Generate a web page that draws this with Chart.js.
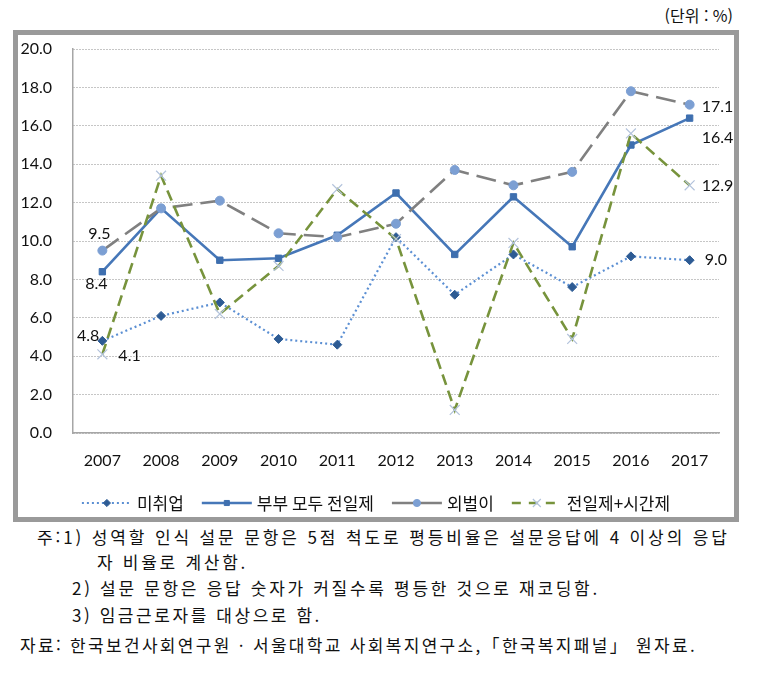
<!DOCTYPE html>
<html lang="ko">
<head>
<meta charset="utf-8">
<script src="https://cdn.jsdelivr.net/npm/chart.js@4.4.1/dist/chart.umd.min.js"></script>
<style>
  html, body { margin: 0; padding: 0; background: #fff; }
  body { width: 758px; height: 676px; position: relative; overflow: hidden; font-family: "Noto Sans CJK KR", sans-serif; color: #111; }
  #unit { position: absolute; right: 25px; top: 4px; font-size: 16px; line-height: 22px; }
  #frame { position: absolute; left: 13px; top: 30px; width: 716px; height: 482px; border: 5px solid #9a9a9a; }
  .note { position: absolute; font-size: 17px; line-height: 22px; white-space: nowrap; }
</style>
</head>
<body>
<div id="unit">(단위 : %)</div>
<div id="frame"><canvas id="chart"></canvas></div>

<div class="note" data-w="693" style="left:37px; top:526px;">주:1) 성역할 인식 설문 문항은 5점 척도로 평등비율은 설문응답에 4 이상의 응답</div>
<div class="note" data-w="151" style="left:97px; top:551px;">자 비율로 계산함.</div>
<div class="note" data-w="528" style="left:72px; top:577px;">2) 설문 문항은 응답 숫자가 커질수록 평등한 것으로 재코딩함.</div>
<div class="note" data-w="250" style="left:72px; top:604px;">3) 임금근로자를 대상으로 함.</div>
<div class="note" data-w="677" style="left:20px; top:634px;">자료: 한국보건사회연구원 · 서울대학교 사회복지연구소,「한국복지패널」 원자료.</div>

<script>
// data
const years = ['2007', '2008', '2009', '2010', '2011', '2012', '2013', '2014', '2015', '2016', '2017'];
const unemployed   = [4.8, 6.1, 6.8, 4.9, 4.6, 10.2, 7.2, 9.3, 7.6, 9.2, 9.0];     // 미취업
const dualFullTime = [8.4, 11.7, 9.0, 9.1, 10.3, 12.5, 9.3, 12.3, 9.7, 15.0, 16.4]; // 부부 모두 전일제
const singleEarner = [9.5, 11.7, 12.1, 10.4, 10.2, 10.9, 13.7, 12.9, 13.6, 17.8, 17.1]; // 외벌이
const fullPartTime = [4.1, 13.4, 6.2, 8.7, 12.7, 10.1, 1.2, 9.9, 4.9, 15.6, 12.9]; // 전일제+시간제
const seriesNames = ['미취업', '부부 모두 전일제', '외벌이', '전일제+시간제'];

const tickFont = { family: 'Lato, "Open Sans", sans-serif', size: 16 };

// where the end-value labels sit relative to their point
const endLabels = [
  { first: { dx: -3, dy: -5, align: 'right' },  last: { dx: 15, dy: 0, align: 'left' } },
  { first: { dx: -6, dy: 12, align: 'center' }, last: { dx: 12, dy: 20, align: 'left' } },
  { first: { dx: -3, dy: -17, align: 'center' }, last: { dx: 12, dy: 2, align: 'left' } },
  { first: { dx: 16, dy: 2, align: 'left' },     last: { dx: 12, dy: 1, align: 'left' } }
];

const endLabelPlugin = {
  id: 'endLabels',
  afterDatasetsDraw(chart) {
    const ctx = chart.ctx;
    ctx.save();
    ctx.font = '16px Lato, "Open Sans", sans-serif';
    ctx.fillStyle = '#111';
    ctx.textBaseline = 'middle';
    chart.data.datasets.forEach((ds, i) => {
      const pts = chart.getDatasetMeta(i).data;
      const cfg = endLabels[i];
      [[0, cfg.first], [pts.length - 1, cfg.last]].forEach(([idx, c]) => {
        const p = pts[idx];
        ctx.textAlign = c.align;
        ctx.fillText(ds.data[idx].toFixed(1), p.x + c.dx, p.y + c.dy);
      });
    });
    ctx.restore();
  }
};

// Excel-like legend: line sample with marker in the middle
const lineLegendPlugin = {
  id: 'lineLegend',
  afterDraw(chart) {
    const ctx = chart.ctx;
    const sample = 50, gap = 5, itemGap = 18;
    const y = chart.height - 14;
    ctx.save();
    ctx.font = '17px "Noto Sans CJK KR", sans-serif';
    const items = chart.data.datasets.map(ds => ({ ds, w: ctx.measureText(ds.label).width }));
    const total = items.reduce((s, it) => s + sample + gap + it.w, 0) + itemGap * (items.length - 1);
    let x = (chart.width - total) / 2;
    items.forEach(({ ds, w }) => {
      ctx.strokeStyle = ds.borderColor;
      ctx.lineWidth = ds.borderWidth;
      ctx.setLineDash(ds.legendDash || []);
      ctx.beginPath();
      ctx.moveTo(x, y);
      ctx.lineTo(x + sample, y);
      ctx.stroke();
      ctx.setLineDash([]);
      ctx.fillStyle = ds.pointBackgroundColor;
      ctx.strokeStyle = ds.pointBorderColor;
      ctx.lineWidth = ds.pointBorderWidth;
      Chart.helpers.drawPoint(ctx, {
        pointStyle: ds.pointStyle, rotation: 0,
        radius: ds.pointRadius * 0.8, borderWidth: ds.pointBorderWidth
      }, x + sample / 2, y);
      ctx.fillStyle = '#111';
      ctx.textAlign = 'left';
      ctx.textBaseline = 'middle';
      ctx.fillText(ds.label, x + sample + gap, y + 1);
      x += sample + gap + w + itemGap;
    });
    ctx.restore();
  }
};

new Chart(document.getElementById('chart'), {
  type: 'line',
  data: {
    labels: years,
    datasets: [{
      label: seriesNames[0],
      data: unemployed,
      borderColor: '#5b8fd3',
      borderWidth: 2.2,
      borderDash: [2, 3],
      legendDash: [2, 3],
      pointStyle: 'rectRot',
      pointRadius: 4.5,
      pointBackgroundColor: '#2d5b94',
      pointBorderColor: '#2d5b94',
      pointBorderWidth: 1,
      order: 3
    }, {
      label: seriesNames[1],
      data: dualFullTime,
      borderColor: '#4677b8',
      borderWidth: 2.6,
      pointStyle: 'rect',
      pointRadius: 4.5,
      pointBackgroundColor: '#3e6faf',
      pointBorderColor: '#3e6faf',
      pointBorderWidth: 1,
      order: 2
    }, {
      label: seriesNames[2],
      data: singleEarner,
      borderColor: '#808080',
      borderWidth: 2.6,
      borderDash: [20, 8],
      legendDash: [],
      pointStyle: 'circle',
      pointRadius: 4.5,
      pointBackgroundColor: '#7c9fd3',
      pointBorderColor: '#7c9fd3',
      pointBorderWidth: 1,
      order: 1
    }, {
      label: seriesNames[3],
      data: fullPartTime,
      borderColor: '#77933c',
      borderWidth: 2.6,
      borderDash: [11, 6],
      legendDash: [9, 8],
      pointStyle: 'crossRot',
      pointRadius: 7,
      pointBackgroundColor: '#b3c3dc',
      pointBorderColor: '#b3c3dc',
      pointBorderWidth: 1.2,
      order: 0
    }]
  },
  options: {
    responsive: true,
    maintainAspectRatio: false,
    animation: false,
    layout: { padding: { top: 14, right: 15, bottom: 48, left: 0 } },
    elements: { line: { tension: 0 } },
    plugins: {
      legend: { display: false },
      tooltip: { enabled: false }
    },
    scales: {
      x: {
        offset: true,
        grid: { display: false, drawTicks: false },
        border: { display: true, color: '#a6a6a6', width: 1.5 },
        ticks: { font: tickFont, color: '#111', padding: 18, maxRotation: 0 },
        afterFit(scale) { scale.height = 36; }
      },
      y: {
        min: 0,
        max: 20,
        grid: { color: '#8c8c8c', lineWidth: 1, drawTicks: false },
        border: { display: true, color: '#a6a6a6', width: 1.5, dash: [1, 2] },
        ticks: {
          stepSize: 2, font: tickFont, color: '#111', padding: 21,
          callback: v => v.toFixed(1)
        },
        afterFit(scale) {
          scale.width = 55;
          scale.paddingTop = 0;
          scale.paddingBottom = 0;
        }
      }
    }
  },
  plugins: [endLabelPlugin, lineLegendPlugin]
});

// stretch each note line to the width it takes in the source
function fitNotes() {
  document.querySelectorAll('.note').forEach(el => {
    el.style.letterSpacing = '0px';
    const target = Number(el.dataset.w);
    const n = el.textContent.length;
    const diff = (target - el.getBoundingClientRect().width) / n;
    el.style.letterSpacing = diff.toFixed(2) + 'px';
  });
}
fitNotes();
if (document.fonts && document.fonts.ready) document.fonts.ready.then(fitNotes);
</script>
</body>
</html>
